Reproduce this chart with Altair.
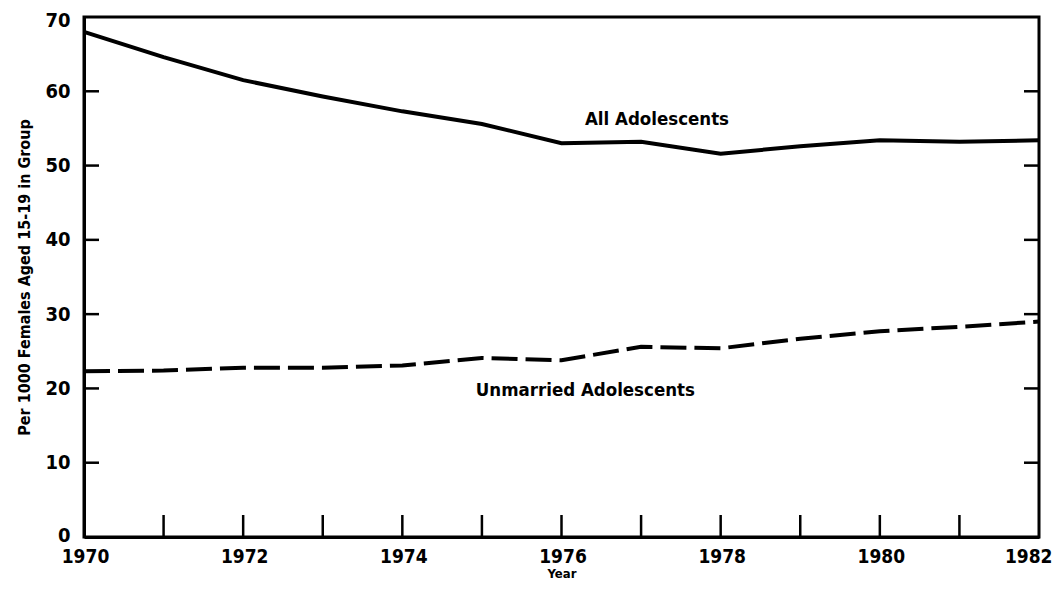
import altair as alt
import pandas as pd

years = [1970, 1971, 1972, 1973, 1974, 1975, 1976, 1977, 1978, 1979, 1980, 1981, 1982]
all_adol = [68.0, 64.6, 61.5, 59.3, 57.3, 55.6, 53.0, 53.2, 51.6, 52.6, 53.4, 53.2, 53.4]
unmarried = [22.3, 22.4, 22.8, 22.8, 23.1, 24.1, 23.8, 25.6, 25.4, 26.7, 27.7, 28.3, 29.0]

y_ticks = [10, 20, 30, 40, 50, 60]
y_labels = [0, 10, 20, 30, 40, 50, 60, 70]
x_ticks = [1971, 1972, 1973, 1974, 1975, 1976, 1977, 1978, 1979, 1980, 1981]
x_labels = [1970, 1972, 1974, 1976, 1978, 1980, 1982]

label_text = ["All Adolescents", "Unmarried Adolescents"]
label_x = [1977.2, 1976.3]
label_y = [56.3, 19.8]

W, H = 955, 520
FONT = "'DejaVu Sans Condensed', 'Liberation Sans', sans-serif"

df = pd.DataFrame({"year": years * 2,
                   "rate": all_adol + unmarried,
                   "series": ["All"] * len(years) + ["Unmarried"] * len(years)})

xscale = alt.Scale(domain=[1970, 1982], nice=False, zero=False)
yscale = alt.Scale(domain=[0, 70], nice=False)

base_x = alt.X("year:Q", scale=xscale,
               axis=alt.Axis(values=x_labels, format="d", title="Year", tickSize=0,
                             labelPadding=10, labelFontSize=19, labelFont=FONT,
                             labelFontWeight="bold", titleFont=FONT, titleFontSize=13,
                             titleFontWeight="bold", titleY=40, titleBaseline="alphabetic",
                             labelAlign=alt.ExprRef(expr="datum.value == 1982 ? 'right' : 'center'"),
                             labelOffset=alt.ExprRef(expr="datum.value == 1982 ? 13 : 1"),
                             domainWidth=3, domainColor="black", labelColor="black",
                             titleColor="black", grid=False, labelFlush=False))
base_y = alt.Y("rate:Q", scale=yscale,
               axis=alt.Axis(values=y_labels,
                             title="Per 1000 Females Aged 15-19 in Group",
                             tickSize=0, labelPadding=14, labelFontSize=20, labelFont=FONT,
                             labelFontWeight="bold", titleFont=FONT, titleFontSize=16,
                             titleFontWeight="bold", titlePadding=12, domainWidth=3,
                             labelOffset=alt.ExprRef(expr="datum.value == 70 ? 3 : (datum.value == 0 ? -2 : 0)"),
                             domainColor="black", labelColor="black", titleColor="black",
                             grid=False))

solid = alt.Chart(df[df.series == "All"]).mark_line(color="black", strokeWidth=4).encode(
    x=base_x, y=base_y)
dashed = alt.Chart(df[df.series == "Unmarried"]).mark_line(
    color="black", strokeWidth=4, strokeDash=[26, 8]).encode(
    x=alt.X("year:Q", scale=xscale), y=alt.Y("rate:Q", scale=yscale))

ydf = pd.DataFrame({"v": y_ticks})
left_ticks = alt.Chart(ydf).mark_rule(color="black", strokeWidth=2.5).encode(
    y=alt.Y("v:Q", scale=yscale), x=alt.value(0), x2=alt.value(15))
right_ticks = alt.Chart(ydf).mark_rule(color="black", strokeWidth=2.5).encode(
    y=alt.Y("v:Q", scale=yscale), x=alt.value(W - 15), x2=alt.value(W))

xdf = pd.DataFrame({"v": x_ticks})
bottom_ticks = alt.Chart(xdf).mark_rule(color="black", strokeWidth=2.5).encode(
    x=alt.X("v:Q", scale=xscale), y=alt.value(H), y2=alt.value(H - 22))

ldf = pd.DataFrame({"t": label_text, "x": label_x, "y": label_y})
labels = alt.Chart(ldf).mark_text(font=FONT, fontSize=18.5, fontWeight="bold", color="black").encode(
    x=alt.X("x:Q", scale=xscale), y=alt.Y("y:Q", scale=yscale), text="t:N")

chart = alt.layer(solid, dashed, left_ticks, right_ticks, bottom_ticks, labels).properties(
    width=W, height=H,
    autosize=alt.AutoSizeParams(type="none"),
    padding={"left": 76, "top": 9, "right": 14, "bottom": 44},
    background="white",
).configure_view(stroke="black", strokeWidth=3)

chart.save("out.html", embed_options={"renderer": "svg", "actions": False})
